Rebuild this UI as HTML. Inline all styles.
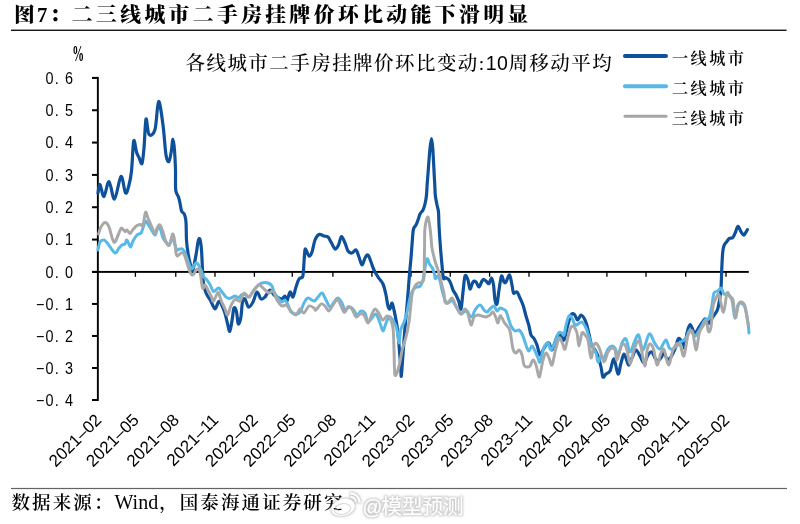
<!DOCTYPE html>
<html><head><meta charset="utf-8"><style>
html,body{margin:0;padding:0;background:#fff;}
svg{display:block;}
</style></head><body>
<svg width="800" height="524" viewBox="0 0 800 524">
<rect width="800" height="524" fill="#fff"/>
<text x="14" y="21.6" font-family='"Liberation Serif", "Noto Serif CJK SC", serif' font-weight="800" font-size="20.8" letter-spacing="2.2" fill="#000">图7：</text>
<text x="71.8" y="21.6" font-family='"Liberation Serif", "Noto Serif CJK SC", serif' font-weight="800" font-size="20.8" letter-spacing="3.4" fill="#000">二三线城市二手房挂牌价环比动能下滑明显</text>
<rect x="11" y="29.6" width="775.5" height="1.3" fill="#000"/>
<text x="185.5" y="69.5" font-family='"Liberation Serif", "Noto Serif CJK SC", serif' font-weight="500" font-size="19.5" letter-spacing="1.45" fill="#000">各线城市二手房挂牌价环比变动:<tspan font-family='"Liberation Sans", "Noto Sans CJK SC", sans-serif' font-weight="400" letter-spacing="0.5">10</tspan>周移动平均</text>
<text transform="translate(72.3,60.9) scale(0.7,1.3)" font-family='"Liberation Serif", "Noto Serif CJK SC", serif' font-weight="bold" font-size="17" fill="#000">%</text>
<text transform="translate(74.2,83.72) scale(0.9,1)" text-anchor="end" font-family='"Liberation Sans", "Noto Sans CJK SC", sans-serif' font-size="16" letter-spacing="1.3" fill="#000">0. 6</text>
<rect x="92" y="76.92" width="5.5" height="2" fill="#000"/>
<text transform="translate(74.2,116.05) scale(0.9,1)" text-anchor="end" font-family='"Liberation Sans", "Noto Sans CJK SC", sans-serif' font-size="16" letter-spacing="1.3" fill="#000">0. 5</text>
<rect x="92" y="109.25" width="5.5" height="2" fill="#000"/>
<text transform="translate(74.2,148.38) scale(0.9,1)" text-anchor="end" font-family='"Liberation Sans", "Noto Sans CJK SC", sans-serif' font-size="16" letter-spacing="1.3" fill="#000">0. 4</text>
<rect x="92" y="141.58" width="5.5" height="2" fill="#000"/>
<text transform="translate(74.2,180.71) scale(0.9,1)" text-anchor="end" font-family='"Liberation Sans", "Noto Sans CJK SC", sans-serif' font-size="16" letter-spacing="1.3" fill="#000">0. 3</text>
<rect x="92" y="173.91" width="5.5" height="2" fill="#000"/>
<text transform="translate(74.2,213.04) scale(0.9,1)" text-anchor="end" font-family='"Liberation Sans", "Noto Sans CJK SC", sans-serif' font-size="16" letter-spacing="1.3" fill="#000">0. 2</text>
<rect x="92" y="206.24" width="5.5" height="2" fill="#000"/>
<text transform="translate(74.2,245.37) scale(0.9,1)" text-anchor="end" font-family='"Liberation Sans", "Noto Sans CJK SC", sans-serif' font-size="16" letter-spacing="1.3" fill="#000">0. 1</text>
<rect x="92" y="238.57" width="5.5" height="2" fill="#000"/>
<text transform="translate(74.2,277.70) scale(0.9,1)" text-anchor="end" font-family='"Liberation Sans", "Noto Sans CJK SC", sans-serif' font-size="16" letter-spacing="1.3" fill="#000">0. 0</text>
<rect x="92" y="270.90" width="5.5" height="2" fill="#000"/>
<text transform="translate(74.2,309.73) scale(0.9,1)" text-anchor="end" font-family='"Liberation Sans", "Noto Sans CJK SC", sans-serif' font-size="16" letter-spacing="1.3" fill="#000">−0. 1</text>
<rect x="92" y="302.93" width="5.5" height="2" fill="#000"/>
<text transform="translate(74.2,341.76) scale(0.9,1)" text-anchor="end" font-family='"Liberation Sans", "Noto Sans CJK SC", sans-serif' font-size="16" letter-spacing="1.3" fill="#000">−0. 2</text>
<rect x="92" y="334.96" width="5.5" height="2" fill="#000"/>
<text transform="translate(74.2,373.79) scale(0.9,1)" text-anchor="end" font-family='"Liberation Sans", "Noto Sans CJK SC", sans-serif' font-size="16" letter-spacing="1.3" fill="#000">−0. 3</text>
<rect x="92" y="366.99" width="5.5" height="2" fill="#000"/>
<text transform="translate(74.2,405.82) scale(0.9,1)" text-anchor="end" font-family='"Liberation Sans", "Noto Sans CJK SC", sans-serif' font-size="16" letter-spacing="1.3" fill="#000">−0. 4</text>
<rect x="92" y="399.02" width="5.5" height="2" fill="#000"/>
<rect x="96.9" y="76.92" width="1.9" height="324.10" fill="#000"/>
<rect x="92" y="270.95" width="656.8" height="1.9" fill="#000"/>
<rect x="134.75" y="271.9" width="1.3" height="4.9" fill="#000"/>
<rect x="175.10" y="271.9" width="1.3" height="4.9" fill="#000"/>
<rect x="214.35" y="271.9" width="1.3" height="4.9" fill="#000"/>
<rect x="253.75" y="271.9" width="1.3" height="4.9" fill="#000"/>
<rect x="291.60" y="271.9" width="1.3" height="4.9" fill="#000"/>
<rect x="332.25" y="271.9" width="1.3" height="4.9" fill="#000"/>
<rect x="371.25" y="271.9" width="1.3" height="4.9" fill="#000"/>
<rect x="410.35" y="271.9" width="1.3" height="4.9" fill="#000"/>
<rect x="449.60" y="271.9" width="1.3" height="4.9" fill="#000"/>
<rect x="488.95" y="271.9" width="1.3" height="4.9" fill="#000"/>
<rect x="528.35" y="271.9" width="1.3" height="4.9" fill="#000"/>
<rect x="567.45" y="271.9" width="1.3" height="4.9" fill="#000"/>
<rect x="606.25" y="271.9" width="1.3" height="4.9" fill="#000"/>
<rect x="645.35" y="271.9" width="1.3" height="4.9" fill="#000"/>
<rect x="685.05" y="271.9" width="1.3" height="4.9" fill="#000"/>
<rect x="725.35" y="271.9" width="1.3" height="4.9" fill="#000"/>
<text transform="translate(102.5,421) rotate(-45)" text-anchor="end" font-family='"Liberation Sans", "Noto Sans CJK SC", sans-serif' font-size="17" fill="#000">2021–02</text>
<text transform="translate(139.9,421) rotate(-45)" text-anchor="end" font-family='"Liberation Sans", "Noto Sans CJK SC", sans-serif' font-size="17" fill="#000">2021–05</text>
<text transform="translate(180.2,421) rotate(-45)" text-anchor="end" font-family='"Liberation Sans", "Noto Sans CJK SC", sans-serif' font-size="17" fill="#000">2021–08</text>
<text transform="translate(219.5,421) rotate(-45)" text-anchor="end" font-family='"Liberation Sans", "Noto Sans CJK SC", sans-serif' font-size="17" fill="#000">2021–11</text>
<text transform="translate(258.9,421) rotate(-45)" text-anchor="end" font-family='"Liberation Sans", "Noto Sans CJK SC", sans-serif' font-size="17" fill="#000">2022–02</text>
<text transform="translate(296.8,421) rotate(-45)" text-anchor="end" font-family='"Liberation Sans", "Noto Sans CJK SC", sans-serif' font-size="17" fill="#000">2022–05</text>
<text transform="translate(337.4,421) rotate(-45)" text-anchor="end" font-family='"Liberation Sans", "Noto Sans CJK SC", sans-serif' font-size="17" fill="#000">2022–08</text>
<text transform="translate(376.4,421) rotate(-45)" text-anchor="end" font-family='"Liberation Sans", "Noto Sans CJK SC", sans-serif' font-size="17" fill="#000">2022–11</text>
<text transform="translate(415.5,421) rotate(-45)" text-anchor="end" font-family='"Liberation Sans", "Noto Sans CJK SC", sans-serif' font-size="17" fill="#000">2023–02</text>
<text transform="translate(454.8,421) rotate(-45)" text-anchor="end" font-family='"Liberation Sans", "Noto Sans CJK SC", sans-serif' font-size="17" fill="#000">2023–05</text>
<text transform="translate(494.1,421) rotate(-45)" text-anchor="end" font-family='"Liberation Sans", "Noto Sans CJK SC", sans-serif' font-size="17" fill="#000">2023–08</text>
<text transform="translate(533.5,421) rotate(-45)" text-anchor="end" font-family='"Liberation Sans", "Noto Sans CJK SC", sans-serif' font-size="17" fill="#000">2023–11</text>
<text transform="translate(572.6,421) rotate(-45)" text-anchor="end" font-family='"Liberation Sans", "Noto Sans CJK SC", sans-serif' font-size="17" fill="#000">2024–02</text>
<text transform="translate(611.4,421) rotate(-45)" text-anchor="end" font-family='"Liberation Sans", "Noto Sans CJK SC", sans-serif' font-size="17" fill="#000">2024–05</text>
<text transform="translate(650.5,421) rotate(-45)" text-anchor="end" font-family='"Liberation Sans", "Noto Sans CJK SC", sans-serif' font-size="17" fill="#000">2024–08</text>
<text transform="translate(690.2,421) rotate(-45)" text-anchor="end" font-family='"Liberation Sans", "Noto Sans CJK SC", sans-serif' font-size="17" fill="#000">2024–11</text>
<text transform="translate(730.5,421) rotate(-45)" text-anchor="end" font-family='"Liberation Sans", "Noto Sans CJK SC", sans-serif' font-size="17" fill="#000">2025–02</text>
<path d="M98.0,193.0 C98.3,191.6 99.0,183.9 100.0,184.5 C101.0,185.1 102.5,197.0 104.0,196.5 C105.5,196.0 107.2,181.1 109.0,181.5 C110.8,181.9 112.5,199.8 114.5,199.0 C116.5,198.2 119.2,177.5 121.0,176.5 C122.8,175.5 124.2,191.6 125.5,193.0 C126.8,194.4 128.0,188.7 129.0,185.0 C130.0,181.3 130.8,177.2 131.5,171.0 C132.2,164.8 132.6,153.1 133.0,148.0 C133.4,142.9 133.6,139.8 134.2,140.5 C134.8,141.2 135.7,149.2 136.5,152.0 C137.3,154.8 138.1,155.6 139.0,157.5 C139.9,159.4 141.2,165.1 142.0,163.5 C142.8,161.9 143.3,155.4 144.0,148.0 C144.7,140.6 145.2,121.2 146.0,119.0 C146.8,116.8 147.5,132.8 149.0,134.5 C150.5,136.2 153.4,135.0 155.0,129.5 C156.6,124.0 157.3,102.2 158.6,101.5 C159.9,100.8 161.8,116.1 163.0,125.0 C164.2,133.9 165.0,148.9 166.0,155.0 C167.0,161.1 168.1,162.3 169.0,161.5 C169.9,160.7 170.9,153.8 171.5,150.0 C172.1,146.2 172.3,139.0 172.8,139.0 C173.3,139.0 174.1,144.8 174.5,150.0 C174.9,155.2 175.3,163.3 175.5,170.0 C175.7,176.7 175.2,185.5 175.7,190.0 C176.2,194.5 177.8,194.8 178.5,197.0 C179.2,199.2 179.5,200.7 180.0,203.0 C180.5,205.3 180.8,209.1 181.5,211.0 C182.2,212.9 183.8,212.7 184.5,214.5 C185.2,216.3 185.7,217.8 186.0,222.0 C186.3,226.2 186.2,234.8 186.5,240.0 C186.8,245.2 187.4,249.2 188.0,253.0 C188.6,256.8 189.2,260.0 190.0,263.0 C190.8,266.0 191.5,272.3 192.5,271.0 C193.5,269.7 195.1,259.8 196.0,255.0 C196.9,250.2 197.4,244.7 198.0,242.0 C198.6,239.3 199.2,237.7 199.8,239.0 C200.4,240.3 201.1,244.8 201.5,250.0 C201.9,255.2 202.2,264.5 202.5,270.0 C202.8,275.5 202.8,279.2 203.4,283.0 C204.0,286.8 204.8,290.1 206.0,293.0 C207.2,295.9 209.1,298.1 210.6,300.7 C212.1,303.3 213.6,308.7 215.0,308.8 C216.4,308.9 217.6,301.9 218.8,301.4 C220.0,300.9 221.0,303.8 222.0,305.8 C223.0,307.8 224.1,310.3 225.0,313.3 C225.9,316.3 226.8,320.9 227.6,323.9 C228.4,326.9 229.1,331.9 229.8,331.4 C230.5,330.9 231.3,324.6 232.0,320.7 C232.7,316.8 233.2,309.7 233.9,308.1 C234.6,306.5 235.7,308.7 236.4,311.3 C237.1,313.9 237.6,322.8 238.3,323.9 C239.0,324.9 240.1,321.2 240.8,317.6 C241.5,314.0 241.8,305.1 242.5,302.0 C243.2,298.9 244.0,298.2 245.0,299.0 C246.0,299.8 247.2,306.5 248.5,307.0 C249.8,307.5 251.6,304.5 253.0,302.0 C254.4,299.5 255.7,292.5 257.0,292.0 C258.3,291.5 259.7,298.2 261.0,299.0 C262.3,299.8 263.5,298.5 265.0,297.0 C266.5,295.5 268.5,290.3 270.0,290.0 C271.5,289.7 272.5,293.7 274.0,295.0 C275.5,296.3 277.7,297.3 279.0,298.0 C280.3,298.7 281.0,299.3 282.0,299.0 C283.0,298.7 284.2,295.7 285.0,296.0 C285.8,296.3 286.2,301.7 287.0,301.0 C287.8,300.3 289.0,292.7 290.0,292.0 C291.0,291.3 292.0,297.8 293.0,297.0 C294.0,296.2 295.0,290.0 296.0,287.0 C297.0,284.0 297.9,280.7 299.0,279.0 C300.1,277.3 301.8,278.5 302.5,277.0 C303.2,275.5 303.2,273.7 303.5,270.0 C303.8,266.3 304.2,258.5 304.5,255.0 C304.8,251.5 304.8,248.8 305.5,249.0 C306.2,249.2 307.9,255.5 309.0,256.0 C310.1,256.5 311.0,254.7 312.0,252.0 C313.0,249.3 313.8,242.9 315.0,240.0 C316.2,237.1 317.5,235.2 319.0,234.5 C320.5,233.8 322.5,235.6 324.0,236.0 C325.5,236.4 326.8,236.0 328.0,237.0 C329.2,238.0 329.8,240.0 331.0,242.0 C332.2,244.0 333.8,248.5 335.0,249.0 C336.2,249.5 337.4,247.1 338.5,245.0 C339.6,242.9 340.4,236.8 341.5,236.5 C342.6,236.2 343.9,240.6 345.0,243.0 C346.1,245.4 346.8,249.3 348.0,251.0 C349.2,252.7 350.7,253.2 352.0,253.0 C353.3,252.8 354.8,249.3 356.0,250.0 C357.2,250.7 358.0,254.5 359.0,257.0 C360.0,259.5 361.0,264.8 362.0,265.0 C363.0,265.2 364.0,259.7 365.0,258.0 C366.0,256.3 367.0,254.3 368.0,255.0 C369.0,255.7 370.0,259.5 371.0,262.0 C372.0,264.5 372.8,267.5 374.0,270.0 C375.2,272.5 376.5,274.7 378.0,277.0 C379.5,279.3 381.7,281.0 383.0,284.0 C384.3,287.0 385.2,291.3 386.0,295.0 C386.8,298.7 387.3,303.7 388.0,306.0 C388.7,308.3 389.3,309.5 390.0,309.0 C390.7,308.5 391.3,302.8 392.0,303.0 C392.7,303.2 393.3,307.2 394.0,310.0 C394.7,312.8 395.3,316.2 396.0,320.0 C396.7,323.8 397.5,328.8 398.0,333.0 C398.5,337.2 398.6,339.5 399.0,345.0 C399.4,350.5 400.3,360.6 400.7,365.8 C401.1,371.0 400.9,377.9 401.3,376.0 C401.7,374.1 402.4,361.7 403.0,354.3 C403.6,346.9 403.9,340.4 404.7,331.4 C405.4,322.3 406.7,309.6 407.5,300.0 C408.3,290.4 408.9,281.0 409.5,274.0 C410.1,267.0 410.5,264.0 411.0,258.0 C411.5,252.0 412.1,242.8 412.5,238.0 C412.9,233.2 412.9,231.2 413.5,229.0 C414.1,226.8 415.2,226.5 416.0,225.0 C416.8,223.5 417.3,221.8 418.0,220.0 C418.7,218.2 419.2,215.7 420.0,214.0 C420.8,212.3 422.2,211.7 423.0,210.0 C423.8,208.3 424.4,206.5 425.0,204.0 C425.6,201.5 426.1,199.0 426.5,195.0 C426.9,191.0 426.7,189.4 427.5,180.0 C428.3,170.6 430.3,138.5 431.5,138.5 C432.7,138.5 433.9,170.6 434.5,180.0 C435.1,189.4 434.9,190.8 435.3,195.0 C435.7,199.2 436.5,202.2 437.0,205.0 C437.5,207.8 438.2,208.7 438.5,212.0 C438.8,215.3 438.7,219.0 439.0,225.0 C439.3,231.0 440.0,241.3 440.5,248.0 C441.0,254.7 441.5,260.0 442.0,265.0 C442.5,270.0 442.8,275.9 443.4,278.0 C444.0,280.1 444.9,277.4 445.8,277.7 C446.7,278.0 447.8,278.6 448.7,279.6 C449.6,280.7 450.3,282.3 451.0,284.0 C451.7,285.7 452.2,288.2 453.0,290.0 C453.8,291.8 455.0,293.0 456.0,295.0 C457.0,297.0 458.2,299.7 459.0,302.0 C459.8,304.3 460.3,310.7 461.0,309.0 C461.7,307.3 462.3,297.5 463.0,292.0 C463.7,286.5 464.2,278.0 465.0,276.0 C465.8,274.0 467.2,277.8 468.0,280.0 C468.8,282.2 469.2,288.7 470.0,289.0 C470.8,289.3 472.0,283.2 473.0,282.0 C474.0,280.8 475.0,281.2 476.0,282.0 C477.0,282.8 478.0,287.2 479.0,287.0 C480.0,286.8 481.2,282.2 482.0,281.0 C482.8,279.8 483.2,279.3 484.0,279.5 C484.8,279.7 486.2,281.3 487.0,282.0 C487.8,282.7 488.2,284.2 489.0,283.5 C489.8,282.8 490.8,277.8 491.5,278.0 C492.2,278.2 492.9,281.3 493.5,285.0 C494.1,288.7 494.4,296.8 495.0,300.0 C495.6,303.2 496.3,305.7 497.0,304.0 C497.7,302.3 498.2,294.7 499.0,290.0 C499.8,285.3 500.7,277.3 501.5,276.0 C502.3,274.7 503.2,281.0 504.0,282.0 C504.8,283.0 505.1,283.2 506.0,282.0 C506.9,280.8 508.5,274.5 509.5,275.0 C510.5,275.5 511.3,282.0 512.0,285.0 C512.7,288.0 512.7,291.8 513.5,293.0 C514.3,294.2 515.9,291.2 517.0,292.0 C518.1,292.8 519.0,295.8 520.0,298.0 C521.0,300.2 522.0,302.0 523.0,305.0 C524.0,308.0 525.0,312.5 526.0,316.0 C527.0,319.5 528.2,322.8 529.0,326.0 C529.8,329.2 530.2,332.9 531.0,335.0 C531.8,337.1 533.0,336.8 534.0,338.5 C535.0,340.2 536.0,342.2 537.0,345.0 C538.0,347.8 539.0,354.2 540.0,355.0 C541.0,355.8 542.0,351.7 543.0,350.0 C544.0,348.3 545.0,346.2 546.0,345.0 C547.0,343.8 548.0,342.2 549.0,343.0 C550.0,343.8 551.0,350.2 552.0,350.0 C553.0,349.8 554.0,344.5 555.0,342.0 C556.0,339.5 557.0,336.0 558.0,335.0 C559.0,334.0 560.0,335.2 561.0,336.0 C562.0,336.8 562.9,341.8 564.0,340.0 C565.1,338.2 566.6,329.2 567.8,325.0 C569.0,320.8 570.1,316.3 571.2,314.6 C572.3,312.9 573.6,313.7 574.6,314.6 C575.6,315.5 576.4,319.9 577.5,320.0 C578.6,320.1 579.9,315.3 581.0,315.0 C582.1,314.7 583.1,316.5 584.0,318.0 C584.9,319.5 585.7,321.3 586.5,324.0 C587.3,326.7 588.2,330.5 589.0,334.0 C589.8,337.5 590.5,342.3 591.5,345.0 C592.5,347.7 593.9,348.2 595.0,350.0 C596.1,351.8 597.0,353.2 598.0,356.0 C599.0,358.8 600.2,363.5 601.0,367.0 C601.8,370.5 602.2,375.8 603.0,377.0 C603.8,378.2 604.8,375.0 606.0,374.0 C607.2,373.0 608.7,373.5 610.0,371.0 C611.3,368.5 612.7,358.5 614.0,359.0 C615.3,359.5 616.8,373.3 618.0,374.0 C619.2,374.7 620.0,366.3 621.0,363.0 C622.0,359.7 623.0,354.3 624.0,354.0 C625.0,353.7 626.2,359.2 627.0,361.0 C627.8,362.8 628.2,365.5 629.0,365.0 C629.8,364.5 630.8,360.5 632.0,358.0 C633.2,355.5 634.7,350.3 636.0,350.0 C637.3,349.7 638.7,353.8 640.0,356.0 C641.3,358.2 642.7,363.2 644.0,363.0 C645.3,362.8 646.7,356.8 648.0,355.0 C649.3,353.2 650.6,351.5 651.8,352.0 C653.0,352.5 654.0,356.5 655.0,358.0 C656.0,359.5 656.9,361.2 658.0,361.0 C659.1,360.8 660.5,358.5 661.5,357.0 C662.5,355.5 663.1,351.7 664.0,352.0 C664.9,352.3 665.8,358.2 667.0,359.0 C668.2,359.8 669.7,358.7 671.0,357.0 C672.3,355.3 673.7,352.1 675.0,349.0 C676.3,345.9 677.3,339.3 678.7,338.5 C680.1,337.7 682.2,342.4 683.3,344.0 C684.3,345.6 684.4,349.8 685.0,348.0 C685.6,346.2 686.1,336.9 687.0,333.0 C687.9,329.1 688.9,324.7 690.2,324.7 C691.5,324.7 693.2,332.4 694.7,332.8 C696.2,333.2 697.6,329.3 699.3,327.0 C701.0,324.7 703.5,319.6 705.0,319.0 C706.5,318.4 707.3,323.8 708.5,323.6 C709.7,323.4 710.9,319.6 712.0,318.0 C713.1,316.4 714.1,315.5 715.0,314.0 C715.9,312.5 716.9,311.5 717.6,309.2 C718.4,306.9 718.9,303.5 719.5,300.0 C720.1,296.5 720.6,293.3 721.0,288.0 C721.4,282.7 721.5,273.9 721.8,268.0 C722.1,262.1 722.3,256.1 722.7,252.4 C723.1,248.7 723.3,247.5 724.0,245.7 C724.7,243.9 725.8,242.9 726.7,241.7 C727.6,240.5 728.4,239.1 729.4,238.4 C730.4,237.7 731.7,238.7 732.7,237.7 C733.7,236.7 734.5,234.3 735.4,232.4 C736.3,230.5 737.0,226.3 738.0,226.3 C739.0,226.3 740.4,231.0 741.4,232.4 C742.4,233.8 743.0,235.4 744.0,235.0 C745.0,234.6 746.8,230.6 747.4,229.7" fill="none" stroke="#0E519A" stroke-width="3.2" stroke-linejoin="round" stroke-linecap="round"/>
<path d="M98.0,250.0 C98.3,248.7 99.0,243.7 100.0,242.0 C101.0,240.3 102.7,239.7 104.0,240.0 C105.3,240.3 106.2,241.8 108.0,244.0 C109.8,246.2 113.2,252.3 115.0,253.0 C116.8,253.7 117.8,249.3 119.0,248.0 C120.2,246.7 121.0,245.7 122.0,245.0 C123.0,244.3 124.2,244.8 125.0,244.0 C125.8,243.2 126.1,239.5 127.0,240.0 C127.9,240.5 129.5,246.8 130.5,247.0 C131.5,247.2 131.9,243.0 133.0,241.0 C134.1,239.0 135.7,236.3 137.0,235.0 C138.3,233.7 140.0,234.2 141.0,233.0 C142.0,231.8 142.2,230.0 143.0,228.0 C143.8,226.0 144.6,221.5 145.5,221.0 C146.4,220.5 147.6,223.7 148.5,225.0 C149.4,226.3 149.9,227.3 151.0,229.0 C152.1,230.7 154.0,234.8 155.0,235.0 C156.0,235.2 156.2,231.2 157.0,230.0 C157.8,228.8 159.0,226.7 160.0,228.0 C161.0,229.3 162.0,235.7 163.0,238.0 C164.0,240.3 165.0,240.8 166.0,242.0 C167.0,243.2 167.9,245.7 169.0,245.0 C170.1,244.3 171.5,238.0 172.5,238.0 C173.5,238.0 174.2,243.0 175.0,245.0 C175.8,247.0 176.2,249.3 177.0,250.0 C177.8,250.7 179.0,249.1 180.0,249.0 C181.0,248.9 182.0,248.5 183.0,249.5 C184.0,250.5 185.0,252.6 186.0,255.0 C187.0,257.4 188.0,261.7 189.0,264.0 C190.0,266.3 191.0,269.0 192.0,269.0 C193.0,269.0 194.1,264.9 195.0,264.0 C195.9,263.1 196.5,262.5 197.5,263.5 C198.5,264.5 200.1,267.9 201.0,270.0 C201.9,272.1 202.1,274.4 203.0,276.0 C203.9,277.6 205.3,278.1 206.5,279.5 C207.7,280.9 208.8,282.5 210.0,284.5 C211.2,286.5 212.1,290.9 213.5,291.5 C214.9,292.1 217.1,287.9 218.5,288.0 C219.9,288.1 220.8,290.5 222.0,292.0 C223.2,293.5 224.8,295.9 226.0,297.0 C227.2,298.1 228.0,298.4 229.0,298.5 C230.0,298.6 231.0,297.9 232.0,297.5 C233.0,297.1 233.9,296.0 235.0,296.0 C236.1,296.0 237.3,297.8 238.5,297.5 C239.7,297.2 240.9,295.0 242.0,294.5 C243.1,294.0 243.8,294.1 245.0,294.5 C246.2,294.9 247.5,297.8 249.0,297.0 C250.5,296.2 252.5,291.9 254.0,290.0 C255.5,288.1 256.7,286.7 258.0,285.5 C259.3,284.3 260.3,283.4 262.0,283.0 C263.7,282.6 266.3,282.5 268.0,283.0 C269.7,283.5 271.0,284.5 272.0,286.0 C273.0,287.5 273.0,290.0 274.0,292.0 C275.0,294.0 276.7,296.3 278.0,298.0 C279.3,299.7 280.8,301.7 282.0,302.0 C283.2,302.3 284.0,299.5 285.0,300.0 C286.0,300.5 287.0,303.0 288.0,305.0 C289.0,307.0 289.7,310.5 291.0,312.0 C292.3,313.5 294.5,314.0 296.0,314.0 C297.5,314.0 298.7,313.8 300.0,312.0 C301.3,310.2 302.7,305.3 304.0,303.0 C305.3,300.7 306.3,298.3 308.0,298.0 C309.7,297.7 312.3,301.2 314.0,301.0 C315.7,300.8 316.7,298.3 318.0,297.0 C319.3,295.7 320.7,292.5 322.0,293.0 C323.3,293.5 324.7,297.7 326.0,300.0 C327.3,302.3 328.7,306.7 330.0,307.0 C331.3,307.3 332.7,303.5 334.0,302.0 C335.3,300.5 336.7,297.8 338.0,298.0 C339.3,298.2 340.8,301.0 342.0,303.0 C343.2,305.0 343.8,309.3 345.0,310.0 C346.2,310.7 347.7,307.2 349.0,307.0 C350.3,306.8 351.7,307.7 353.0,309.0 C354.3,310.3 355.7,314.7 357.0,315.0 C358.3,315.3 359.7,311.3 361.0,311.0 C362.3,310.7 363.8,311.2 365.0,313.0 C366.2,314.8 366.8,321.2 368.0,322.0 C369.2,322.8 370.7,319.3 372.0,318.0 C373.3,316.7 374.7,313.2 376.0,314.0 C377.3,314.8 378.8,320.2 380.0,323.0 C381.2,325.8 382.0,331.0 383.0,331.0 C384.0,331.0 385.0,325.3 386.0,323.0 C387.0,320.7 388.0,317.7 389.0,317.0 C390.0,316.3 391.0,317.8 392.0,319.0 C393.0,320.2 394.2,322.2 395.0,324.0 C395.8,325.8 396.3,326.8 397.0,330.0 C397.7,333.2 398.4,342.8 399.0,343.0 C399.6,343.2 400.0,333.8 400.5,331.0 C401.0,328.2 401.3,328.2 402.0,326.5 C402.7,324.8 403.7,323.4 404.5,321.0 C405.3,318.6 406.1,315.8 407.0,312.0 C407.9,308.2 409.0,301.7 410.0,298.0 C411.0,294.3 411.8,291.8 413.0,290.0 C414.2,288.2 415.8,287.6 417.0,287.0 C418.2,286.4 419.0,287.5 420.0,286.3 C421.0,285.1 421.9,284.5 423.0,280.0 C424.1,275.5 425.6,262.1 426.7,259.5 C427.8,256.9 428.7,262.9 429.6,264.3 C430.6,265.7 431.6,266.4 432.4,268.0 C433.2,269.6 433.9,272.2 434.4,274.0 C434.9,275.8 434.8,278.3 435.3,278.6 C435.8,278.9 436.7,275.6 437.5,276.0 C438.3,276.4 439.2,278.7 440.0,281.0 C440.8,283.3 441.2,286.8 442.0,290.0 C442.8,293.2 444.0,297.8 445.0,300.0 C446.0,302.2 446.8,303.0 448.0,303.0 C449.2,303.0 451.0,300.0 452.0,300.0 C453.0,300.0 453.0,301.3 454.0,303.0 C455.0,304.7 456.8,308.2 458.0,310.0 C459.2,311.8 460.0,313.7 461.0,314.0 C462.0,314.3 463.0,312.5 464.0,312.0 C465.0,311.5 466.0,310.3 467.0,311.0 C468.0,311.7 469.1,315.2 470.0,316.0 C470.9,316.8 471.7,317.0 472.5,316.0 C473.3,315.0 473.8,311.8 475.0,310.0 C476.2,308.2 478.5,305.0 480.0,305.0 C481.5,305.0 482.8,308.8 484.0,310.0 C485.2,311.2 486.0,312.2 487.0,312.0 C488.0,311.8 488.8,310.0 490.0,309.0 C491.2,308.0 492.8,305.7 494.0,306.0 C495.2,306.3 496.0,310.7 497.0,311.0 C498.0,311.3 499.0,308.3 500.0,308.0 C501.0,307.7 502.0,308.5 503.0,309.0 C504.0,309.5 505.2,309.7 506.0,311.0 C506.8,312.3 507.2,314.5 508.0,317.0 C508.8,319.5 509.8,323.7 511.0,326.0 C512.2,328.3 513.7,330.3 515.0,331.0 C516.3,331.7 517.8,329.5 519.0,330.0 C520.2,330.5 521.0,332.0 522.0,334.0 C523.0,336.0 524.2,339.7 525.0,342.0 C525.8,344.3 526.3,346.5 527.0,348.0 C527.7,349.5 528.2,351.3 529.0,351.0 C529.8,350.7 531.0,346.0 532.0,346.0 C533.0,346.0 534.0,349.0 535.0,351.0 C536.0,353.0 537.2,356.2 538.0,358.0 C538.8,359.8 539.0,363.7 540.0,362.0 C541.0,360.3 542.4,351.2 543.7,348.0 C545.0,344.8 546.8,342.7 548.0,343.0 C549.2,343.3 549.8,350.2 551.0,350.0 C552.2,349.8 553.7,344.8 555.0,342.0 C556.3,339.2 557.4,334.5 558.6,333.0 C559.8,331.5 561.1,332.7 562.0,333.0 C562.9,333.3 563.3,336.3 564.0,335.0 C564.7,333.7 565.2,328.2 566.0,325.0 C566.8,321.8 568.0,317.2 569.0,316.0 C570.0,314.8 571.0,316.5 572.0,318.0 C573.0,319.5 574.0,324.0 575.0,325.0 C576.0,326.0 576.8,324.5 578.0,324.0 C579.2,323.5 580.7,321.3 582.0,322.0 C583.3,322.7 584.8,325.5 586.0,328.0 C587.2,330.5 588.0,334.0 589.0,337.0 C590.0,340.0 590.8,343.3 592.0,346.0 C593.2,348.7 595.0,350.3 596.0,353.0 C597.0,355.7 597.2,361.5 598.0,362.0 C598.8,362.5 600.0,356.7 601.0,356.0 C602.0,355.3 602.8,359.2 604.0,358.0 C605.2,356.8 606.7,351.0 608.0,349.0 C609.3,347.0 610.8,346.2 612.0,346.0 C613.2,345.8 614.0,346.5 615.0,348.0 C616.0,349.5 616.8,355.8 618.0,355.0 C619.2,354.2 620.7,345.7 622.0,343.0 C623.3,340.3 624.7,337.5 626.0,339.0 C627.3,340.5 628.7,351.3 630.0,352.0 C631.3,352.7 632.6,345.8 634.0,343.0 C635.4,340.2 637.1,333.8 638.6,335.0 C640.1,336.2 641.2,350.2 643.0,350.0 C644.8,349.8 647.2,335.1 649.2,334.0 C651.2,332.9 653.1,341.0 654.9,343.5 C656.7,346.0 658.2,349.6 660.0,349.0 C661.8,348.4 664.2,340.2 665.8,340.0 C667.3,339.8 668.1,346.5 669.3,348.0 C670.5,349.5 671.6,349.5 673.0,349.0 C674.4,348.5 676.3,346.2 677.6,345.0 C678.9,343.8 679.6,343.2 681.0,342.0 C682.4,340.8 684.5,340.0 686.0,338.0 C687.5,336.0 688.5,330.3 690.0,330.0 C691.5,329.7 693.3,336.2 695.0,336.0 C696.7,335.8 698.3,331.7 700.0,329.0 C701.7,326.3 703.5,321.8 705.0,320.0 C706.5,318.2 707.8,320.5 709.0,318.0 C710.2,315.5 711.2,309.2 712.0,305.0 C712.8,300.8 713.0,295.3 714.0,293.0 C715.0,290.7 716.8,291.8 718.0,291.0 C719.2,290.2 720.0,287.5 721.0,288.0 C722.0,288.5 722.8,293.0 724.0,294.0 C725.2,295.0 726.7,293.0 728.0,294.0 C729.3,295.0 730.8,296.0 732.0,300.0 C733.2,304.0 734.0,317.2 735.0,318.0 C736.0,318.8 737.0,307.5 738.0,305.0 C739.0,302.5 739.8,302.7 741.0,303.0 C742.2,303.3 743.8,303.7 745.0,307.0 C746.2,310.3 747.3,318.7 748.0,323.0 C748.7,327.3 748.8,331.3 749.0,333.0" fill="none" stroke="#58B8E8" stroke-width="3.0" stroke-linejoin="round" stroke-linecap="round"/>
<path d="M98.5,234.0 C98.9,232.8 99.9,228.9 101.0,227.0 C102.1,225.1 103.7,222.5 105.0,222.5 C106.3,222.5 107.8,224.2 109.0,227.0 C110.2,229.8 111.5,236.5 112.5,239.0 C113.5,241.5 113.9,243.0 115.0,242.0 C116.1,241.0 117.9,235.3 119.0,233.0 C120.1,230.7 120.5,228.2 121.5,228.0 C122.5,227.8 124.1,231.2 125.0,231.5 C125.9,231.8 126.2,229.7 127.0,230.0 C127.8,230.3 129.0,233.6 130.0,233.5 C131.0,233.4 131.8,230.8 133.0,229.5 C134.2,228.2 135.8,226.3 137.0,225.5 C138.2,224.7 139.5,224.6 140.5,224.5 C141.5,224.4 142.2,227.0 143.0,225.0 C143.8,223.0 144.7,213.5 145.5,212.3 C146.3,211.1 147.1,215.9 148.0,218.0 C148.9,220.1 149.8,222.4 151.0,225.0 C152.2,227.6 154.0,233.0 155.0,233.5 C156.0,234.0 156.2,229.4 157.0,228.0 C157.8,226.6 159.0,224.3 160.0,225.0 C161.0,225.7 162.0,229.2 163.0,232.0 C164.0,234.8 164.9,239.8 166.0,242.0 C167.1,244.2 168.4,246.3 169.5,245.0 C170.6,243.7 171.7,234.8 172.5,234.0 C173.3,233.2 173.9,236.8 174.5,240.0 C175.1,243.2 175.5,250.3 176.0,253.0 C176.5,255.7 176.7,256.0 177.5,256.0 C178.3,256.0 179.9,253.3 181.0,253.0 C182.1,252.7 183.0,252.3 184.0,254.0 C185.0,255.7 186.0,260.0 187.0,263.0 C188.0,266.0 189.0,270.0 190.0,272.0 C191.0,274.0 191.8,275.5 193.0,275.0 C194.2,274.5 195.8,269.5 197.0,269.0 C198.2,268.5 199.1,268.8 200.0,272.0 C200.9,275.2 201.7,285.8 202.5,288.0 C203.3,290.2 204.0,284.5 205.0,285.0 C206.0,285.5 207.4,289.0 208.5,291.0 C209.6,293.0 210.7,295.3 211.5,297.0 C212.3,298.7 212.4,301.8 213.5,301.0 C214.6,300.2 216.9,293.2 218.0,292.5 C219.1,291.8 219.4,295.5 220.0,297.0 C220.6,298.5 220.7,299.5 221.5,301.5 C222.3,303.5 224.0,306.6 225.0,308.8 C226.0,311.1 226.7,315.4 227.6,315.0 C228.5,314.6 229.5,308.9 230.7,306.3 C231.9,303.7 233.4,300.4 235.0,299.5 C236.6,298.6 238.5,302.1 240.0,301.0 C241.5,299.9 242.5,293.7 244.0,293.0 C245.5,292.3 247.3,297.5 249.0,297.0 C250.7,296.5 252.3,292.0 254.0,290.0 C255.7,288.0 257.3,285.2 259.0,285.0 C260.7,284.8 262.3,287.7 264.0,289.0 C265.7,290.3 267.5,292.7 269.0,293.0 C270.5,293.3 271.7,289.8 273.0,291.0 C274.3,292.2 275.5,297.5 277.0,300.0 C278.5,302.5 280.5,305.2 282.0,306.0 C283.5,306.8 284.5,304.2 286.0,305.0 C287.5,305.8 289.3,309.3 291.0,311.0 C292.7,312.7 294.5,315.3 296.0,315.0 C297.5,314.7 298.7,309.3 300.0,309.0 C301.3,308.7 302.5,313.5 304.0,313.0 C305.5,312.5 307.3,306.8 309.0,306.0 C310.7,305.2 312.8,307.3 314.0,308.0 C315.2,308.7 314.8,310.7 316.0,310.0 C317.2,309.3 319.5,304.7 321.0,304.0 C322.5,303.3 323.7,304.8 325.0,306.0 C326.3,307.2 327.7,311.2 329.0,311.0 C330.3,310.8 331.5,306.8 333.0,305.0 C334.5,303.2 336.2,298.8 338.0,300.0 C339.8,301.2 342.3,310.8 344.0,312.0 C345.7,313.2 346.7,307.5 348.0,307.0 C349.3,306.5 350.7,307.3 352.0,309.0 C353.3,310.7 354.7,316.2 356.0,317.0 C357.3,317.8 358.7,314.3 360.0,314.0 C361.3,313.7 362.7,313.5 364.0,315.0 C365.3,316.5 366.7,323.2 368.0,323.0 C369.3,322.8 370.8,316.3 372.0,314.0 C373.2,311.7 373.8,309.1 375.0,309.0 C376.2,308.9 377.8,311.7 379.0,313.5 C380.2,315.3 381.2,319.6 382.5,320.0 C383.8,320.4 385.8,316.3 387.0,316.0 C388.2,315.7 389.0,316.0 390.0,318.0 C391.0,320.0 392.3,322.7 393.0,328.0 C393.7,333.3 393.7,342.2 394.0,350.0 C394.3,357.8 394.2,372.3 395.0,375.0 C395.8,377.7 397.8,370.4 399.0,366.0 C400.2,361.6 401.3,353.4 402.5,348.6 C403.7,343.8 404.9,341.4 406.0,337.0 C407.1,332.6 408.0,329.0 409.0,322.0 C410.0,315.0 411.0,301.0 412.0,295.0 C413.0,289.0 414.0,288.0 415.0,286.0 C416.0,284.0 416.8,283.7 418.0,283.0 C419.2,282.3 421.0,283.0 422.0,282.0 C423.0,281.0 423.6,282.3 424.0,277.0 C424.4,271.7 424.3,258.2 424.5,250.0 C424.7,241.8 424.4,233.5 425.0,228.0 C425.6,222.5 427.1,216.3 428.0,217.0 C428.9,217.7 429.8,226.8 430.5,232.0 C431.2,237.2 431.2,243.2 432.0,248.0 C432.8,252.8 434.0,257.3 435.0,261.0 C436.0,264.7 437.0,266.6 438.0,270.0 C439.0,273.4 440.0,277.7 441.0,281.5 C442.0,285.3 443.2,289.6 443.9,293.0 C444.6,296.4 444.3,300.3 445.0,302.0 C445.7,303.7 446.8,303.7 448.0,303.0 C449.2,302.3 450.8,297.8 452.0,298.0 C453.2,298.2 454.0,302.0 455.0,304.0 C456.0,306.0 457.0,308.3 458.0,310.0 C459.0,311.7 459.8,314.2 461.0,314.0 C462.2,313.8 463.8,309.0 465.0,309.0 C466.2,309.0 467.0,311.3 468.0,314.0 C469.0,316.7 470.0,324.5 471.0,325.0 C472.0,325.5 472.8,318.7 474.0,317.0 C475.2,315.3 476.7,315.2 478.0,315.0 C479.3,314.8 480.7,315.7 482.0,316.0 C483.3,316.3 484.7,317.2 486.0,317.0 C487.3,316.8 488.8,315.8 490.0,315.0 C491.2,314.2 492.0,311.5 493.0,312.0 C494.0,312.5 495.2,316.2 496.0,318.0 C496.8,319.8 497.3,323.3 498.0,323.0 C498.7,322.7 499.3,316.8 500.0,316.0 C500.7,315.2 501.3,317.0 502.0,318.0 C502.7,319.0 503.2,320.7 504.0,322.0 C504.8,323.3 506.0,324.5 507.0,326.0 C508.0,327.5 509.0,327.2 510.0,331.0 C511.0,334.8 512.0,345.3 513.0,349.0 C514.0,352.7 515.0,352.8 516.0,353.0 C517.0,353.2 518.0,349.7 519.0,350.0 C520.0,350.3 521.2,352.5 522.0,355.0 C522.8,357.5 523.2,363.0 524.0,365.0 C524.8,367.0 526.0,366.8 527.0,367.0 C528.0,367.2 529.0,367.2 530.0,366.0 C531.0,364.8 532.0,360.2 533.0,360.0 C534.0,359.8 535.0,362.2 536.0,365.0 C537.0,367.8 538.2,376.2 539.0,377.0 C539.8,377.8 540.3,372.8 541.0,370.0 C541.7,367.2 542.2,362.8 543.0,360.0 C543.8,357.2 545.0,353.3 546.0,353.0 C547.0,352.7 548.0,356.0 549.0,358.0 C550.0,360.0 551.0,366.0 552.0,365.0 C553.0,364.0 554.0,356.0 555.0,352.0 C556.0,348.0 557.2,343.3 558.0,341.0 C558.8,338.7 559.2,337.3 560.0,338.0 C560.8,338.7 562.2,343.2 563.0,345.0 C563.8,346.8 564.2,350.3 565.0,349.0 C565.8,347.7 567.0,340.7 568.0,337.0 C569.0,333.3 570.0,328.7 571.0,327.0 C572.0,325.3 573.0,326.0 574.0,327.0 C575.0,328.0 576.2,329.8 577.0,333.0 C577.8,336.2 578.2,346.0 579.0,346.0 C579.8,346.0 581.0,334.8 582.0,333.0 C583.0,331.2 584.0,333.8 585.0,335.0 C586.0,336.2 587.0,336.2 588.0,340.0 C589.0,343.8 590.0,357.2 591.0,358.0 C592.0,358.8 593.0,347.3 594.0,345.0 C595.0,342.7 596.0,343.2 597.0,344.0 C598.0,344.8 598.8,347.0 600.0,350.0 C601.2,353.0 602.7,361.7 604.0,362.0 C605.3,362.3 606.7,354.3 608.0,352.0 C609.3,349.7 610.8,348.3 612.0,348.0 C613.2,347.7 614.2,348.0 615.0,350.0 C615.8,352.0 616.0,360.5 617.0,360.0 C618.0,359.5 619.8,349.7 621.0,347.0 C622.2,344.3 623.0,343.5 624.0,344.0 C625.0,344.5 626.0,346.7 627.0,350.0 C628.0,353.3 628.8,364.0 630.0,364.0 C631.2,364.0 632.7,353.8 634.0,350.0 C635.3,346.2 636.8,341.5 638.0,341.0 C639.2,340.5 639.9,342.8 641.0,347.0 C642.1,351.2 643.7,365.7 644.8,366.0 C645.9,366.3 646.5,352.7 647.4,349.0 C648.3,345.3 649.0,344.0 650.0,344.0 C651.0,344.0 652.3,345.5 653.5,349.0 C654.7,352.5 655.8,364.2 657.0,365.0 C658.2,365.8 659.4,356.6 660.6,354.0 C661.8,351.4 662.7,347.7 664.0,349.5 C665.3,351.3 667.0,364.8 668.5,365.0 C670.0,365.2 671.3,354.2 672.8,350.6 C674.2,347.0 675.9,344.3 677.2,343.5 C678.5,342.7 679.4,343.9 680.5,346.0 C681.6,348.1 682.8,357.8 684.0,356.0 C685.2,354.2 686.6,339.1 688.0,335.0 C689.4,330.9 691.2,329.1 692.5,331.6 C693.8,334.1 694.9,349.8 696.0,350.0 C697.1,350.2 698.1,337.0 699.3,333.0 C700.5,329.0 701.9,327.9 703.0,326.0 C704.1,324.1 705.3,320.4 706.2,321.3 C707.1,322.2 707.7,330.7 708.5,331.6 C709.3,332.6 710.2,331.2 711.0,327.0 C711.8,322.8 712.2,311.2 713.0,306.4 C713.8,301.6 715.0,299.9 716.0,298.0 C717.0,296.1 717.8,292.6 719.0,295.0 C720.2,297.4 722.2,312.5 723.5,312.2 C724.8,311.9 725.9,295.5 727.0,293.0 C728.1,290.5 729.0,295.8 730.0,297.0 C731.0,298.2 732.1,296.6 733.0,300.0 C733.9,303.4 734.5,316.6 735.3,317.6 C736.1,318.6 737.2,308.6 738.0,306.0 C738.8,303.4 739.0,302.2 740.0,302.0 C741.0,301.8 743.1,301.8 744.3,304.6 C745.5,307.4 746.6,315.6 747.3,319.0 C748.0,322.4 748.1,324.0 748.3,325.0" fill="none" stroke="#A8A8A8" stroke-width="2.95" stroke-linejoin="round" stroke-linecap="round"/>
<line x1="625" x2="666" y1="56.1" y2="56.1" stroke="#0E519A" stroke-width="4" stroke-linecap="round"/>
<text x="672" y="63.9" font-family='"Liberation Serif", "Noto Serif CJK SC", serif' font-weight="600" font-size="16.2" letter-spacing="2.4" fill="#000">一线城市</text>
<line x1="625" x2="666" y1="86.2" y2="86.2" stroke="#58B8E8" stroke-width="4" stroke-linecap="round"/>
<text x="672" y="94.0" font-family='"Liberation Serif", "Noto Serif CJK SC", serif' font-weight="600" font-size="16.2" letter-spacing="2.4" fill="#000">二线城市</text>
<line x1="625" x2="666" y1="116.2" y2="116.2" stroke="#A5A5A5" stroke-width="3" stroke-linecap="round"/>
<text x="672" y="124.0" font-family='"Liberation Serif", "Noto Serif CJK SC", serif' font-weight="600" font-size="16.2" letter-spacing="2.4" fill="#000">三线城市</text>
<rect x="11" y="487.9" width="776" height="1.2" fill="#636363"/>
<text x="11.5" y="508.5" font-family='"Liberation Serif", "Noto Serif CJK SC", serif' font-weight="600" font-size="18.5" letter-spacing="2.1" fill="#000">数据来源：<tspan font-size="20" font-weight="400" letter-spacing="0">Wind</tspan><tspan dx="1">，国泰海通证券研究</tspan></text>
<defs><filter id="wm" x="-10%" y="-30%" width="120%" height="160%"><feMorphology operator="dilate" radius="0.9" in="SourceAlpha" result="d"/><feGaussianBlur in="d" stdDeviation="0.9" result="b"/><feFlood flood-color="#8a8a8a" flood-opacity="0.45"/><feComposite in2="b" operator="in" result="s"/><feMerge><feMergeNode in="s"/><feMergeNode in="SourceGraphic"/></feMerge></filter></defs>
<g filter="url(#wm)"><ellipse cx="343" cy="507.3" rx="11.8" ry="8.3" transform="rotate(-14 343 507.3)" fill="#fff"/><ellipse cx="342.5" cy="509" rx="8.3" ry="5.3" transform="rotate(-10 342.5 509)" fill="none" stroke="#d8d8d8" stroke-width="1"/><path d="M350.5,493.5 A9,9 0 0 1 359.5,502.5" fill="none" stroke="#fff" stroke-width="2"/><path d="M350.8,497 A5,5 0 0 1 355.8,502" fill="none" stroke="#fff" stroke-width="1.8"/><text x="362.6" y="514.2" font-family='"Liberation Sans", "Noto Sans CJK SC", sans-serif' font-weight="400" font-size="20.5" fill="#fff"><tspan font-size="19.5">@</tspan><tspan dx="-0.8">模型预测</tspan></text></g>
<path d="M334.3,508.6 L336.6,509.2 M337.9,509.6 L341,509.3" stroke="#111" stroke-width="1.3" stroke-linecap="round" fill="none"/>
</svg>
</body></html>
